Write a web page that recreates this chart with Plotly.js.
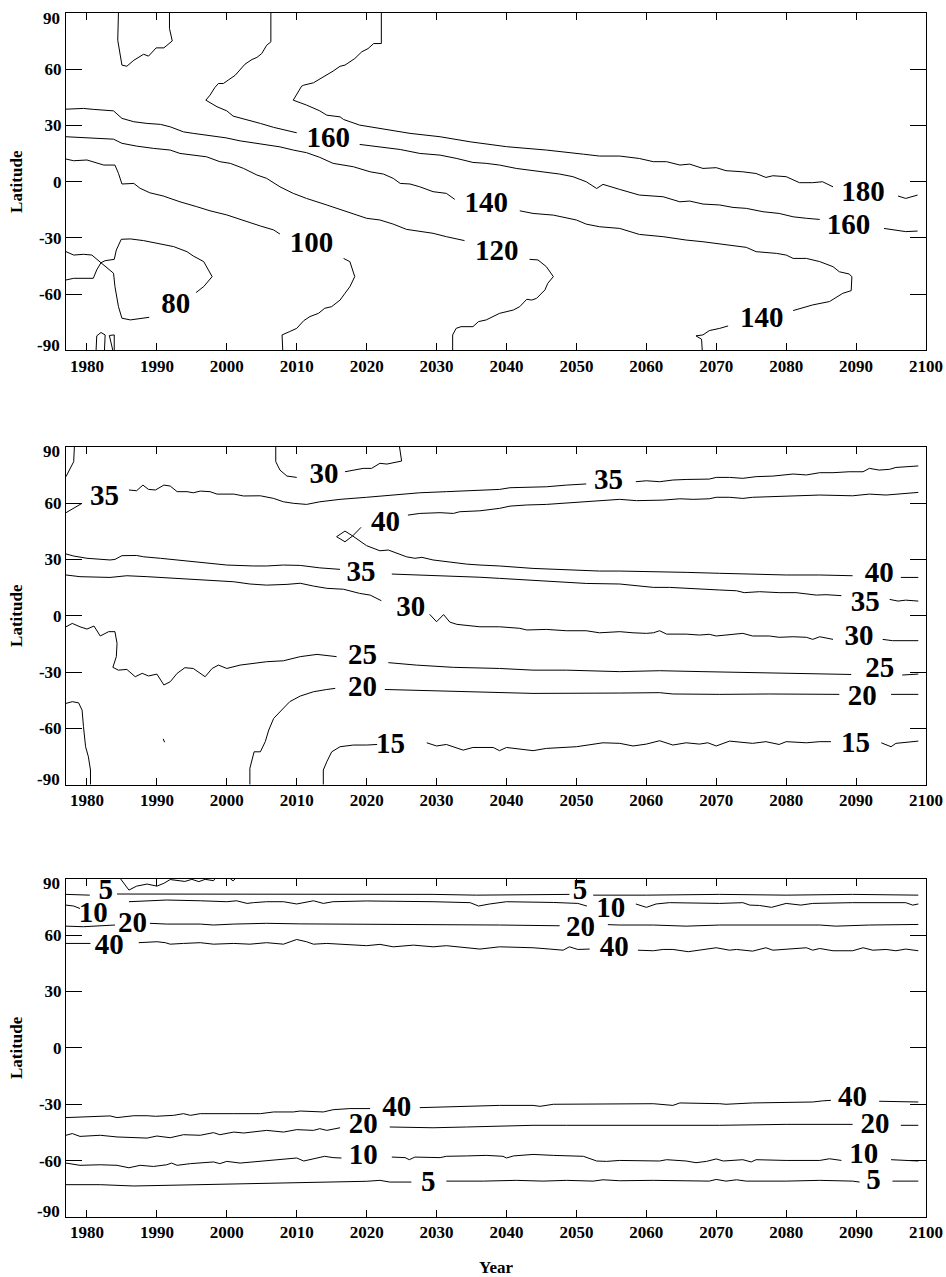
<!DOCTYPE html>
<html>
<head>
<meta charset="utf-8">
<script src="https://cdn.plot.ly/plotly-3.0.1.min.js"></script>
<style>html,body{margin:0;padding:0;background:#fff;}#chart{width:946px;height:1277px;}</style>
</head>
<body>
<div id="chart"></div>
<script>
// ---------- tick values ----------
const YEAR_TICKS = [1980,1990,2000,2010,2020,2030,2040,2050,2060,2070,2080,2090,2100];
const LAT_TICKS = [-90,-60,-30,0,30,60,90];

// ---------- Panel 1 contour paths [year, latitude]; null = gap ----------
const P1_TOP = [[1984.5,90],[1984.4,75.5],[1985.0,62.2],[1985.7,61.6],[1986.7,64.8],[1988.1,68.0],[1988.8,67.0],[1989.9,71.4],[1991.0,71.4],[1992.2,75.1],[1991.8,81.7],[1991.8,90]];
const P1_80 = [[1977,-37.3],[1978.1,-39.1],[1979.5,-38.7],[1980.7,-39.1],[1982.0,-43.2],[1983.8,-48.8],[1984.0,-55.9],[1984.5,-66.6],[1985.0,-72.8],[1986.2,-73.7],[1988.9,-72.3],null,
 [1995.6,-59.1],[1996.7,-55.9],[1997.9,-50.6],[1996.7,-42.6],[1995.2,-39.6],[1994.3,-37.3],[1992.4,-34.6],[1990.0,-32.8],[1988.1,-31.4],[1986.2,-30.5],[1984.9,-30.7],[1984.2,-36.4],[1983.9,-41.4],[1982.6,-42.1],[1982.0,-43.2],[1981.4,-47.0],[1980.9,-51.5],[1978.1,-51.5],[1977,-52.4],null,
 [1981.3,-90],[1981.4,-82.2],[1982.0,-80.4],[1982.6,-81.7],[1982.5,-90],null,
 [1983.7,-90],[1983.2,-82.0],[1983.9,-81.7],[1983.9,-90]];
const P1_100 = [[1977,12.1],[1978.1,11.2],[1980,11.6],[1982.4,8.9],[1984.0,8.9],[1984.5,4.5],[1985.0,-1.2],[1986.7,-0.9],[1987.6,-3.5],[1989.0,-5.9],[1990.9,-7.6],[1993.3,-10.7],[1995.7,-13.3],[1997.6,-15.5],[2000,-17.7],[2002.4,-20.8],[2004.8,-23.6],[2006.7,-25.7],[2007.6,-27.9],null,
 [2016.7,-40.9],[2017.6,-42.6],[2018.3,-50.6],[2017.6,-56.0],[2016.9,-59.5],[2016.2,-63.1],[2015.0,-66.6],[2014.0,-67.5],[2013.1,-70.2],[2011.9,-71.9],[2011.0,-74.1],[2010.0,-78.2],[2009.0,-79.9],[2007.9,-81.7],[2008.0,-90]];
const P1_120 = [[1977,24.0],[1980.9,23.4],[1983.8,22.7],[1985,20.5],[1987.1,19.0],[1989.5,17.8],[1991.9,16.9],[1993.3,15.1],[1995.2,14.2],[1997.1,13.3],[1999.0,10.7],[2000.5,9.8],[2002.4,7.1],[2004.3,3.6],[2005.7,1.8],[2007.6,-2.7],[2009.5,-6.2],[2011.4,-8.9],[2014.3,-12.4],[2016.2,-14.7],[2020,-19.5],[2021.9,-20.4],[2023.8,-22.6],[2025.7,-25.4],[2027.1,-26.1],[2029.5,-27.5],[2031.4,-29.3],[2032.9,-30.7],[2034.0,-31.4],null,
 [2043.3,-41.4],[2044.5,-41.7],[2045.7,-45.3],[2046.7,-50.6],[2045.9,-54.2],[2045.5,-57.7],[2044.3,-62.2],[2043.6,-63.1],[2042.9,-62.7],[2041.9,-66.6],[2041.0,-68.4],[2039.0,-70.2],[2037.1,-73.7],[2036.0,-74.6],[2035.2,-77.3],[2033.5,-77.3],[2032.8,-78.2],[2032.3,-81.7],[2032.3,-90]];
const P1_140 = [[1977,38.7],[1979.5,39.1],[1980.9,38.6],[1983.8,37.8],[1985.0,33.8],[1986.7,32.0],[1988.6,31.1],[1990.5,30.6],[1991.9,29.3],[1993.8,26.6],[1995.2,25.8],[1997.1,24.9],[1999.9,23.4],[2001.9,21.8],[2003.8,20.8],[2005.7,19.9],[2007.6,18.6],[2009.5,16.9],[2011.4,15.5],[2013.3,13.0],[2015.2,9.8],[2018.1,8.0],[2020.5,5.3],[2022.4,4.1],[2023.8,1.8],[2024.8,-0.9],[2026.2,-1.2],[2027.6,-2.7],[2029.5,-5.3],[2031.4,-6.2],[2032.6,-9.4],null,
 [2041.9,-15.5],[2043.8,-16.9],[2046.7,-17.8],[2048.6,-19.5],[2050,-20.4],[2051.4,-22.6],[2053.3,-24.0],[2056.2,-24.9],[2059.0,-28.1],[2062.4,-29.3],[2065.7,-31.1],[2068.1,-32.0],[2071.4,-33.7],[2074.3,-35.0],[2075.7,-37.3],[2078.6,-38.2],[2080,-39.1],[2081,-40.9],[2082.9,-40.9],[2084.8,-42.6],[2086.7,-45.3],[2087.6,-48.0],[2089.0,-49.2],[2089.4,-50.6],[2089.3,-58.1],[2088.1,-59.5],[2086.2,-63.9],[2083.8,-65.7],[2081.0,-68.7],null,
 [2071.7,-76.9],[2070.5,-78.2],[2069.0,-79.4],[2068.1,-81.7],[2067.1,-82.2],[2067.9,-84.0],[2068.0,-90]];
const P1_160 = [[2006.3,90],[2006.3,74.6],[2005.7,72.8],[2005.0,68.4],[2004.3,66.3],[2003.6,65.2],[2002.6,62.7],[2001.9,59.5],[2001.2,56.8],[2000.2,54.2],[1999.5,52.4],[1998.8,52.4],[1998.3,50.3],[1997.6,46.2],[1997.0,43.5],[1998.6,40.0],[2000,37.8],[2000.9,35.0],[2002.9,33.2],[2004.8,31.1],[2006.7,29.0],[2008.6,27.2],[2010.0,26.1],null,
 [2019.0,19.9],[2021.9,18.7],[2024.8,17.2],[2027.6,15.1],[2030.5,14.2],[2032.9,12.4],[2035.2,10.3],[2037.1,9.8],[2039.0,8.9],[2041.4,7.1],[2043.8,5.9],[2045.7,5.3],[2047.6,4.1],[2049.5,2.7],[2051.4,0],[2052.9,-3.6],[2053.8,-1.4],[2056.2,-4.1],[2059.0,-7.1],[2062.4,-8.0],[2064.8,-10.7],[2066.2,-10.3],[2068.1,-11.9],[2070.5,-12.4],[2072.4,-13.7],[2074.3,-14.2],[2076.7,-16.0],[2079.0,-16.9],[2081.0,-18.7],[2082.9,-19.5],[2084.8,-20.1],null,
 [2094.0,-24.9],[2095.7,-25.8],[2097.1,-26.6],[2098.8,-26.3]];
const P1_180 = [[2022.1,90],[2022.1,73.7],[2021.0,73.7],[2020.2,71.0],[2019.3,69.3],[2018.3,65.7],[2016.9,62.2],[2016.2,61.6],[2015.2,59.0],[2013.8,55.9],[2012.4,52.8],[2011.0,51.5],[2010.7,51.0],[2009.5,43.5],[2011.4,40.9],[2013.3,37.8],[2014.3,35.5],[2016.2,34.6],[2016.7,33.2],[2019.0,30.2],[2023.3,27.5],[2026.2,25.8],[2030.5,24.0],[2034.8,21.3],[2040,18.7],[2045.7,16.9],[2051.0,14.7],[2053.3,13.7],[2056.2,13.7],[2059.0,12.4],[2061.0,10.7],[2062.9,10.7],[2064.8,8.9],[2066.2,9.4],[2068.1,7.1],[2070.0,7.5],[2071.4,5.9],[2073.8,5.3],[2075.7,4.4],[2077.1,2.3],[2078.1,3.2],[2080,2.7],[2081.9,-0.5],[2083.8,-0.5],[2085.2,0],[2086.7,-2.7],null,
 [2096.0,-7.6],[2097.1,-8.9],[2098.8,-7.1]];
const P1_LABEL_YEAR = [1992.7,2012.1,2038.6,2037.1,2014.5,2076.5,2088.9,2091.0];
const P1_LABEL_LAT  = [-66.1,-33.7,-37.7,-12.4,22.2,-73.7,-24.0,-6.2];
const P1_LABEL_TEXT = ['80','100','120','140','160','140','160','180'];

// ---------- Panel 2 ----------
const P2_30N = [[1977,74.1],[1978.1,82.1],[1978.2,90],null,
 [2007.0,90],[2007.0,82.1],[2007.6,77.6],[2008.6,74.4],[2010.0,73.7],null,
 [2016.9,76.7],[2018.1,77.6],[2019.5,78.5],[2020.7,78.5],[2021.9,81.2],[2022.9,80.8],[2025.0,82.4],[2024.7,90]];
const P2_35N = [[1977,54.9],[1979.3,59.9],null,
 [1986.0,67.0],[1987.1,66.6],[1988.0,69.6],[1988.8,67.3],[1989.8,67.0],[1991.0,69.6],[1991.9,69.1],[1992.9,66.1],[1994.3,66.1],[1995.2,65.5],[1996.2,66.4],[1997.6,66.1],[1998.6,64.8],[2001.0,64.8],[2002.4,63.8],[2004.8,63.9],[2006.7,62.5],[2008.1,60.7],[2009.5,59.9],[2011.4,59.3],[2013.3,60.7],[2016.2,62.0],[2020,63.1],[2023.8,64.3],[2027.6,65.5],[2031.4,66.1],[2035.2,66.6],[2039.0,67.3],[2040.5,68.2],[2042.9,68.4],[2045.7,68.7],[2048.6,69.6],[2051.4,70.2],null,
 [2058.5,71.4],[2060,71.9],[2061.9,71.4],[2063.8,72.3],[2065.7,72.6],[2067.6,72.6],[2069.0,72.8],[2070,73.7],[2071.9,73.7],[2073.8,73.2],[2075.7,74.1],[2078.1,74.4],[2080,75.0],[2081.0,75.5],[2082.9,75.0],[2084.8,76.2],[2086.7,76.2],[2089.0,76.7],[2091.0,76.7],[2091.9,78.5],[2093.3,77.6],[2094.8,78.0],[2095.7,79.0],[2097.1,79.4],[2098.9,79.8]];
const P2_40 = [[2098.9,65.7],[2096.7,65.2],[2094.3,64.3],[2091.9,64.8],[2089.5,63.9],[2084.8,64.3],[2080,63.8],[2075.2,63.1],[2073.8,62.5],[2071.9,63.1],[2070,63.1],[2069.0,62.3],[2066.7,62.0],[2064.8,62.3],[2062.4,61.6],[2058.6,61.3],[2056.2,62.0],[2051.4,60.7],[2048.6,59.9],[2045.7,59.3],[2042.9,59.0],[2040.5,58.4],[2039.0,57.2],[2036.2,55.9],[2033.3,55.4],[2032.4,54.5],[2030.5,54.9],[2027.6,54.5],[2025.9,53.6],null,
 [2019.2,47.1],[2018.0,42.5],[2016.9,39.4],[2015.7,42.1],[2016.9,45.1],[2018.0,42.5],[2020.0,37.3],[2021.9,34.6],[2023.1,35.0],[2024.3,33.2],[2025.7,31.4],[2026.9,30.6],[2027.9,31.1],[2029.5,29.7],[2031.4,28.8],[2034.3,27.5],[2036.2,27.0],[2039.0,26.5],[2043.8,25.2],[2048.6,24.3],[2053.3,23.8],[2056.2,23.8],[2060,23.6],[2065.7,23.1],[2070.5,22.6],[2075.2,22.2],[2080,21.7],[2084.8,21.7],[2089.5,21.3],null,
 [2096.4,20.4],[2098.9,20.4]];
const P2_35S = [[1977,32.9],[1978.1,31.8],[1980,30.6],[1981.9,30.0],[1983.3,29.7],[1984.0,30.0],[1985.0,32.0],[1987.1,32.1],[1988.1,31.4],[1990.5,30.6],[1993.8,29.3],[1997.1,28.2],[2000,27.0],[2003.8,26.5],[2005.7,26.5],[2008.1,27.0],[2010.5,26.8],[2013.3,25.5],[2016.2,24.7],null,
 [2023.6,22.2],[2027.6,21.7],[2031.9,21.2],[2036.2,20.5],[2039.0,19.9],[2043.8,19.0],[2047.6,18.1],[2051.4,17.2],[2056.2,16.9],[2059.0,15.8],[2061.0,15.1],[2063.3,15.1],[2065.7,14.6],[2067.6,14.0],[2070.5,13.7],[2072.9,13.3],[2074.0,12.3],[2076.2,12.8],[2079.0,12.3],[2081.4,12.3],[2082.9,11.5],[2084.3,11.0],[2085.7,11.2],[2087.9,10.7],null,
 [2094.8,8.7],[2096.0,7.8],[2097.1,8.3],[2098.9,7.8]];
const P2_30S = [[1977,21.7],[1979.0,20.8],[1983.3,20.4],[1985.7,21.3],[1988.6,20.8],[1992.4,19.9],[1995.2,19.4],[1998.6,18.7],[2001.0,18.1],[2003.3,16.9],[2005.7,16.3],[2008.6,16.7],[2010.5,17.3],[2012.4,15.8],[2014.3,14.6],[2016.7,14.1],[2019.0,11.9],[2020.5,11.0],[2022.1,8.0],null,
 [2029.0,0.8],[2030.0,-3.2],[2031.0,0.6],[2031.9,-3.4],[2032.9,-4.6],[2036.2,-5.9],[2039.0,-5.9],[2041.9,-6.7],[2042.9,-7.6],[2045.7,-7.3],[2048.6,-8.0],[2051.4,-8.0],[2053.3,-9.1],[2056.2,-8.5],[2058.1,-9.1],[2060,-9.4],[2061.0,-9.1],[2061.9,-8.0],[2062.9,-9.8],[2065.7,-9.8],[2067.6,-10.3],[2069.0,-9.9],[2070,-10.8],[2071.9,-10.3],[2073.8,-9.4],[2075.2,-10.8],[2077.6,-10.8],[2079.0,-11.5],[2081.0,-11.2],[2082.9,-11.5],[2083.8,-12.6],[2084.8,-11.2],[2086.7,-12.6],null,
 [2093.8,-12.6],[2095.2,-13.3],[2098.9,-13.3]];
const P2_25 = [[1977,-5.9],[1977.9,-4.1],[1979.0,-5.9],[1980,-7.1],[1981.0,-5.5],[1981.9,-10.8],[1983.1,-8.5],[1984.0,-8.5],[1984.3,-14.7],[1984.2,-21.8],[1983.7,-27.5],[1984.5,-29.0],[1985.7,-28.6],[1986.9,-32.5],[1987.9,-30.7],[1988.8,-32.1],[1990.0,-31.1],[1991.0,-36.9],[1991.9,-35.2],[1992.9,-30.7],[1994.0,-27.7],[1995.2,-28.1],[1996.9,-32.5],[1997.9,-28.1],[1998.8,-26.3],[2000,-28.1],[2001.9,-26.3],[2003.8,-25.4],[2005.7,-24.5],[2008.1,-24.0],[2010.5,-21.8],[2012.9,-20.6],[2015.7,-21.8],null,
 [2023.1,-25.0],[2027.1,-26.3],[2032.4,-27.5],[2039.0,-28.1],[2043.8,-29.0],[2048.6,-29.0],[2056.2,-29.8],[2061.9,-29.3],[2068.1,-29.8],[2075.2,-30.4],[2082.4,-30.7],[2089.3,-31.3],null,
 [2096.6,-31.6],[2098.9,-31.1]];
const P2_20 = [[2003.3,-90],[2003.3,-81.3],[2003.9,-72.5],[2004.8,-72.5],[2005.5,-67.1],[2006.0,-60.9],[2006.7,-54.7],[2007.9,-50.3],[2009.0,-45.8],[2010.5,-42.8],[2012.4,-40.5],[2014.3,-39.3],[2015.5,-38.7],null,
 [2022.6,-39.3],[2029.5,-40.0],[2036.7,-40.5],[2043.8,-41.4],[2056.2,-41.2],[2061.9,-41.0],[2063.8,-41.7],[2070.5,-41.9],[2077.6,-41.7],[2087.6,-41.9],null,
 [2095.0,-41.9],[2098.9,-41.9]];
const P2_15 = [[2013.8,-90],[2013.8,-82.2],[2014.3,-77.8],[2015.0,-72.5],[2016.2,-69.8],[2018.1,-68.9],[2020,-68.9],[2021.5,-68.6],null,
 [2028.6,-67.7],[2030,-69.4],[2031.4,-68.6],[2033.8,-71.6],[2035.2,-70.2],[2038.1,-70.2],[2039.0,-71.9],[2040,-70.2],[2043.8,-71.9],[2045.7,-70.7],[2050,-69.8],[2051.9,-68.9],[2053.8,-67.7],[2056.2,-68.0],[2058.1,-69.4],[2060,-68.4],[2061.9,-66.6],[2063.8,-68.9],[2065.7,-67.7],[2067.6,-68.4],[2068.8,-67.7],[2070,-69.4],[2071.9,-66.8],[2075.2,-68.0],[2077.1,-67.1],[2079.0,-68.6],[2080,-67.1],[2082.9,-67.7],[2084.8,-67.1],[2086.4,-67.1],null,
 [2093.6,-67.7],[2095.0,-69.8],[2095.7,-68.0],[2098.9,-66.8]];
const P2_SW = [[1977,-46.7],[1977.9,-45.8],[1978.8,-46.4],[1979.3,-50.3],[1979.5,-59.1],[1979.8,-69.8],[1980.2,-75.1],[1980.5,-82.2],[1980.5,-90],null,
 [1990.9,-65.6],[1991.1,-67.4]];
const P2_LABEL_YEAR = [1982.5,2013.9,2054.6,2022.7,2019.2,2026.3,2019.4,2019.4,2023.4,2093.3,2091.3,2090.4,2093.4,2090.9,2089.9];
const P2_LABEL_LAT  = [63.0,74.5,71.4,49.2,22.6,3.9,-21.8,-38.7,-69.3,21.7,6.6,-11.6,-28.9,-43.6,-68.9];
const P2_LABEL_TEXT = ['35','30','35','40','35','30','25','20','15','40','35','30','25','20','15'];

// ---------- Panel 3 ----------
const P3_TOP = [[1984.8,90],[1986.0,84.0],[1987.1,86.1],[1988.6,87.2],[1990.0,86.1],[1991.0,87.6],[1991.9,89.6],[1992.9,89.3],[1994.0,88.6],[1995.0,89.7],[1996.0,88.5],[1996.9,89.7],[1998.1,89.0],[1998.3,90],null,
 [2000.5,90],[2000.9,88.9],[2001.2,90]];
const P3_5N = [[1977,81.7],[1979.0,81.3],[1980.4,81.3],null,
 [1984.3,81.9],[1991.4,81.9],[2001.0,81.7],[2010.5,81.7],[2020,81.9],[2029.5,81.7],[2035.7,81.3],[2043.8,81.7],[2049.0,81.7],null,
 [2052.4,81.3],[2056.2,81.3],[2060,81.3],[2070.5,81.7],[2080,81.3],[2089.5,81.7],[2098.9,81.3]];
const P3_10N = [[1977,76.0],[1978.1,75.5],[1979.0,74.2],null,
 [1986.0,77.8],[1988.1,78.3],[1991.4,78.7],[1996.2,78.3],[2000,77.8],[2001.4,78.3],[2002.9,76.9],[2003.8,77.3],[2005.7,77.8],[2008.1,77.8],[2010,76.6],[2012.4,78.3],[2013.8,76.9],[2015.2,77.8],[2020,78.2],[2029.5,77.8],[2034.8,77.3],[2036.0,75.5],[2037.6,76.6],[2040,77.8],[2043.8,77.8],[2046.7,77.4],[2050.2,76.9],[2051.5,75.5],null,
 [2058.5,76.6],[2060,74.8],[2061.4,76.6],[2063.3,77.3],[2070.5,76.9],[2073.8,77.3],[2074.8,76.0],[2076.2,75.8],[2077.9,74.8],[2080,76.9],[2082.1,76.0],[2083.8,76.9],[2089.5,77.3],[2094.3,77.3],[2097.1,77.3],[2098.1,76.0],[2098.9,76.6]];
const P3_20N = [[1977,64.8],[1979.5,64.5],[1984.0,65.4],null,
 [1989.0,66.3],[1991.4,65.9],[1996.2,65.9],[1998.1,65.4],[2001.0,65.9],[2005.7,66.3],[2010.5,66.0],[2020,65.9],[2029.5,65.4],[2039.0,65.4],[2047.6,65.0],null,
 [2054.5,65.6],[2056.2,65.4],[2061.0,65.4],[2065.7,64.8],[2070.5,65.4],[2077.6,65.4],[2084.8,65.4],[2087.1,64.8],[2091.9,65.4],[2098.9,65.7]];
const P3_40N = [[1977,55.6],[1980.5,55.6],null,
 [1987.4,56.0],[1990,56.5],[1991.2,56.0],[1991.9,55.2],[1993.8,55.6],[1996.2,56.0],[1998.1,55.2],[2001.0,55.6],[2003.3,55.2],[2005.7,56.0],[2008.1,55.2],[2010,57.7],[2011.4,56.5],[2012.4,55.2],[2014.3,55.6],[2016.2,55.2],[2018.1,54.7],[2020,54.4],[2021.9,55.1],[2023.8,53.8],[2026.7,54.7],[2029.5,53.8],[2031.4,54.4],[2034.3,53.5],[2036.2,52.6],[2039.0,53.8],[2041.9,53.5],[2043.8,53.3],[2046.2,52.6],[2048.1,52.0],[2049.0,53.8],[2050.2,52.4],[2051.9,52.6],null,
 [2058.8,52.0],[2061.0,51.7],[2062.4,52.4],[2063.8,52.4],[2066.0,51.2],[2067.6,52.0],[2070,53.3],[2071.9,52.0],[2072.9,52.4],[2075.2,51.5],[2077.1,53.3],[2078.1,52.0],[2081.0,52.9],[2082.9,53.3],[2083.8,52.0],[2084.8,52.9],[2086.7,51.7],[2089.5,51.7],[2091.0,53.3],[2092.4,52.0],[2094.3,52.4],[2095.7,51.7],[2097.1,52.6],[2098.9,51.7]];
const P3_40S = [[1977,-37.1],[1980,-36.8],[1983.3,-36.2],[1984.3,-37.1],[1986.7,-36.1],[1988.6,-36.1],[1989.8,-36.4],[1992.4,-35.9],[1993.8,-35.0],[1994.8,-35.9],[1996.2,-35.0],[2001.0,-35.0],[2004.8,-35.0],[2006.7,-34.1],[2009.5,-34.1],[2010.5,-33.6],[2013.8,-34.1],[2015.2,-32.9],[2017.6,-32.3],[2020.5,-32.3],null,
 [2027.6,-31.8],[2030.5,-31.4],[2034.3,-31.1],[2039.0,-30.6],[2043.8,-30.6],[2044.8,-31.1],[2046.7,-30.0],[2050,-30.0],[2051.0,-29.7],[2056.2,-30.0],[2061.0,-29.7],[2063.8,-30.6],[2064.8,-29.3],[2070.5,-29.7],[2071.4,-30.0],[2075.2,-29.3],[2080,-28.8],[2083.8,-28.8],[2085.2,-28.2],[2086.4,-27.9],null,
 [2093.3,-28.4],[2096.2,-28.8],[2098.9,-28.8]];
const P3_20S = [[1977,-46.5],[1977.9,-45.6],[1979.0,-47.1],[1981.9,-46.5],[1984.3,-47.4],[1987.1,-47.8],[1988.6,-48.0],[1990.0,-46.9],[1991.9,-47.8],[1993.8,-46.2],[1996.2,-46.5],[1998.1,-45.1],[1999.0,-46.2],[2001.0,-44.8],[2002.4,-45.3],[2005.7,-43.9],[2008.1,-44.8],[2010,-43.5],[2012.4,-43.9],[2013.3,-43.0],[2014.3,-43.9],[2016.2,-42.5],null,
 [2023.3,-42.1],[2029.5,-42.5],[2034.3,-42.1],[2039.0,-41.7],[2043.8,-41.2],[2048.6,-41.2],[2056.2,-41.2],[2063.3,-41.2],[2070.5,-41.2],[2080,-40.7],[2089.5,-40.7],null,
 [2096.4,-41.2],[2098.9,-41.2]];
const P3_10S = [[1977,-61.3],[1979.0,-62.5],[1981.9,-62.2],[1984.3,-62.5],[1986.0,-63.8],[1987.6,-62.5],[1989.5,-63.1],[1991.4,-62.2],[1992.1,-61.3],[1992.9,-62.5],[1994.8,-61.6],[1998.1,-60.7],[1999.0,-61.6],[2000,-60.4],[2001.9,-61.3],[2005.7,-59.9],[2008.1,-59.0],[2010,-58.6],[2011.0,-60.2],[2012.4,-59.0],[2014.0,-57.7],[2015.2,-58.4],[2016.4,-58.6],null,
 [2023.6,-58.1],[2025.5,-58.4],[2026.1,-59.5],[2026.9,-58.1],[2030.5,-58.4],[2031.4,-57.7],[2034.3,-57.5],[2037.1,-57.2],[2039.5,-57.7],[2040,-58.6],[2041.0,-57.5],[2043.8,-56.7],[2046.7,-57.2],[2051.0,-57.7],[2052.9,-60.2],[2054.3,-60.4],[2056.2,-59.9],[2059.0,-59.9],[2061.9,-60.2],[2062.9,-59.5],[2065.7,-60.2],[2067.1,-61.1],[2068.6,-60.4],[2070,-59.1],[2071.0,-60.2],[2073.8,-59.5],[2075,-60.7],[2075.7,-59.5],[2080,-59.9],[2084.8,-59.9],[2086.2,-59.0],[2087.9,-59.9],null,
 [2095.0,-59.5],[2097.6,-59.9],[2098.9,-60.2]];
const P3_5S = [[1977,-72.8],[1981.9,-72.8],[1986.7,-73.5],[1991.4,-73.2],[1996.2,-72.8],[2001.0,-72.6],[2005.7,-72.3],[2010.5,-71.9],[2015.2,-71.4],[2020,-71.0],[2021.9,-70.5],[2023.3,-71.4],[2026.4,-71.4],null,
 [2031.4,-70.9],[2036.7,-70.9],[2041.4,-70.5],[2045.2,-70.9],[2048.6,-70.5],[2052.4,-70.9],[2053.8,-70.2],[2056.2,-70.7],[2061.0,-70.5],[2065.7,-70.9],[2069.0,-70.9],[2070,-70.0],[2071.4,-70.9],[2072.9,-70.2],[2074.3,-70.9],[2080,-70.9],[2084.8,-70.5],[2089.5,-70.9],[2090.5,-71.4],null,
 [2095.2,-70.9],[2098.9,-70.9]];
const P3_LABEL_YEAR = [1982.7,1980.9,1986.5,1983.2,2050.5,2054.9,2050.6,2055.4,2024.3,2019.5,2019.5,2028.8,2089.5,2092.7,2091.1,2092.5];
const P3_LABEL_LAT  = [83.1,70.7,65.4,53.8,83.1,73.4,63.6,52.5,-32.3,-41.6,-58.1,-72.2,-27.0,-41.2,-57.2,-71.4];
const P3_LABEL_TEXT = ['5','10','20','40','5','10','20','40','40','20','10','5','40','20','10','5'];

// ---------- build traces ----------
const FONT = 'Liberation Serif, Times New Roman, serif';
const traces = [];
function addLines(path, xa, ya) {
  traces.push({
    type: 'scatter', mode: 'lines',
    x: path.map(p => p === null ? null : p[0]),
    y: path.map(p => p === null ? null : p[1]),
    xaxis: xa, yaxis: ya, connectgaps: false,
    line: {color: '#000', width: 1},
    hoverinfo: 'skip', showlegend: false
  });
}
function addLabels(xs, ys, ts, xa, ya) {
  traces.push({
    type: 'scatter', mode: 'text', x: xs, y: ys, text: ts,
    xaxis: xa, yaxis: ya, textposition: 'middle center', cliponaxis: false,
    textfont: {family: FONT, size: 29, color: '#000', weight: 'bold'},
    hoverinfo: 'skip', showlegend: false
  });
}
[P1_TOP, P1_80, P1_100, P1_120, P1_140, P1_160, P1_180].forEach(p => addLines(p, 'x', 'y'));
addLabels(P1_LABEL_YEAR, P1_LABEL_LAT, P1_LABEL_TEXT, 'x', 'y');
[P2_30N, P2_35N, P2_40, P2_35S, P2_30S, P2_25, P2_20, P2_15, P2_SW].forEach(p => addLines(p, 'x2', 'y2'));
addLabels(P2_LABEL_YEAR, P2_LABEL_LAT, P2_LABEL_TEXT, 'x2', 'y2');
[P3_TOP, P3_5N, P3_10N, P3_20N, P3_40N, P3_40S, P3_20S, P3_10S, P3_5S].forEach(p => addLines(p, 'x3', 'y3'));
addLabels(P3_LABEL_YEAR, P3_LABEL_LAT, P3_LABEL_TEXT, 'x3', 'y3');

// ---------- axes ----------
const tickFont = {family: FONT, size: 17, color: '#000', weight: 'bold'};
// end tick labels (+/-90) are nudged inward like the original; drawn as annotations
const LAT_TICKTEXT = LAT_TICKS.map(v => (v === 90 || v === -90) ? '' : String(v));
function xAxis(anchor, withTitle) {
  const a = {
    domain: [0, 1], anchor: anchor, range: [1977, 2100], tickmode: 'array', tickvals: YEAR_TICKS,
    ticks: 'inside', ticklen: 7, tickwidth: 1, tickcolor: '#000',
    showline: true, linecolor: '#000', linewidth: 1, mirror: 'ticks',
    showgrid: false, zeroline: false, tickfont: tickFont, fixedrange: true
  };
  if (withTitle) a.title = {text: 'Year', font: tickFont, standoff: 19};
  return a;
}
function yAxis(anchor, dom) {
  return {
    domain: dom, anchor: anchor, range: [-90, 90], tickmode: 'array', tickvals: LAT_TICKS, ticktext: LAT_TICKTEXT,
    ticks: 'inside', ticklen: 16, tickwidth: 1, tickcolor: '#000',
    showline: true, linecolor: '#000', linewidth: 1, mirror: 'ticks',
    showgrid: false, zeroline: false, tickfont: tickFont, fixedrange: true,
    title: {text: 'Latitude', font: tickFont, standoff: 11}
  };
}
const annotations = [];
['', '2', '3'].forEach(s => {
  [90, -90].forEach(v => {
    annotations.push({
      xref: 'x' + s + ' domain', yref: 'y' + s, x: 0, y: v, text: String(v),
      showarrow: false, xanchor: 'right', yanchor: 'middle',
      xshift: -4, yshift: v > 0 ? -5 : 5, font: tickFont
    });
  });
});
const layout = {
  width: 946, height: 1277,
  margin: {l: 66, r: 20, t: 13, b: 60},
  paper_bgcolor: '#fff', plot_bgcolor: '#fff',
  showlegend: false,
  annotations: annotations,
  xaxis: xAxis('y', false), yaxis: yAxis('x', [0.7197, 1]),
  xaxis2: xAxis('y2', false), yaxis2: yAxis('x2', [0.3591, 0.6397]),
  xaxis3: xAxis('y3', true), yaxis3: yAxis('x3', [0, 0.2809])
};
Plotly.newPlot('chart', traces, layout, {staticPlot: true, displayModeBar: false});
</script>
</body>
</html>
